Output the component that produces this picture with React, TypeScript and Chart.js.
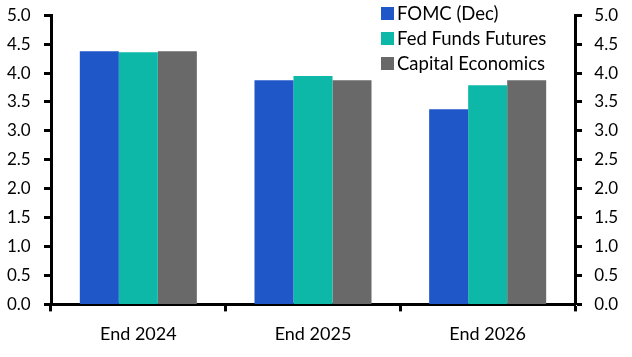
import React, { useEffect, useRef } from "react";
import { Chart, registerables } from "chart.js";

Chart.register(...registerables);

const categories = ["End 2024", "End 2025", "End 2026"];
const seriesNames = ["FOMC (Dec)", "Fed Funds Futures", "Capital Economics"];
const fomc = [4.375, 3.875, 3.375];
const futures = [4.36, 3.95, 3.79];
const capEcon = [4.375, 3.875, 3.875];
const colors = ["#1f57c9", "#0db8a8", "#696969"];
const FONT = "Lato, 'Open Sans', sans-serif";

const legendPlugin = {
  id: "customLegend",
  afterDraw(chart: any) {
    const ctx = chart.ctx;
    ctx.save();
    ctx.font = `18.5px ${FONT}`;
    ctx.textBaseline = "middle";
    ctx.textAlign = "left";
    seriesNames.forEach((name, i) => {
      const cy = 13 + i * 25;
      ctx.fillStyle = colors[i];
      ctx.fillRect(381, cy - 6, 13, 13);
      ctx.fillStyle = "#000";
      ctx.fillText(name, 397, cy + 1);
    });
    ctx.restore();
  },
};

export default function App() {
  const ref = useRef<HTMLCanvasElement>(null);
  useEffect(() => {
    if (!ref.current) return;
    const yTicks = {
      stepSize: 0.5,
      color: "#000",
      font: { family: FONT, size: 17 },
      padding: 5,
      crossAlign: "far" as const,
      callback: (v: any) => Number(v).toFixed(1),
    };
    const chart = new Chart(ref.current, {
      type: "bar",
      data: {
        labels: categories,
        datasets: [
          { label: seriesNames[0], data: fomc, backgroundColor: colors[0], yAxisID: "y" },
          { label: seriesNames[1], data: futures, backgroundColor: colors[1], yAxisID: "y" },
          { label: seriesNames[2], data: capEcon, backgroundColor: colors[2], yAxisID: "y" },
        ],
      },
      options: {
        animation: false,
        responsive: false,
        maintainAspectRatio: false,
        layout: { padding: { top: 0, bottom: 0, left: 7, right: 14 } },
        datasets: { bar: { categoryPercentage: 0.67, barPercentage: 1.0 } },
        plugins: { legend: { display: false }, tooltip: { enabled: false } },
        scales: {
          x: {
            offset: true,
            grid: { offset: true, drawOnChartArea: false, drawTicks: true, tickLength: 7, tickColor: "#000", tickWidth: 3 },
            border: { display: true, color: "#000", width: 3 },
            ticks: { color: "#000", font: { family: FONT, size: 18 }, padding: 12 },
          },
          y: {
            position: "left",
            min: 0,
            max: 5,
            ticks: yTicks,
            grid: { drawOnChartArea: false, tickLength: 7, tickColor: "#000", tickWidth: 3 },
            border: { display: true, color: "#000", width: 3 },
            afterFit: (s: any) => { s.width = 44; },
          },
          y2: {
            position: "right",
            min: 0,
            max: 5,
            ticks: yTicks,
            grid: { drawOnChartArea: false, tickLength: 7, tickColor: "#000", tickWidth: 3 },
            border: { display: true, color: "#000", width: 3 },
            afterFit: (s: any) => { s.width = 43; },
          },
        },
      },
      plugins: [legendPlugin],
    });
    return () => chart.destroy();
  }, []);
  return (
    <div style={{ position: "absolute", left: 0, top: 0, width: 632, height: 357, background: "#fff" }}>
      <canvas ref={ref} width={632} height={357} style={{ width: 632, height: 357 }} />
    </div>
  );
}
